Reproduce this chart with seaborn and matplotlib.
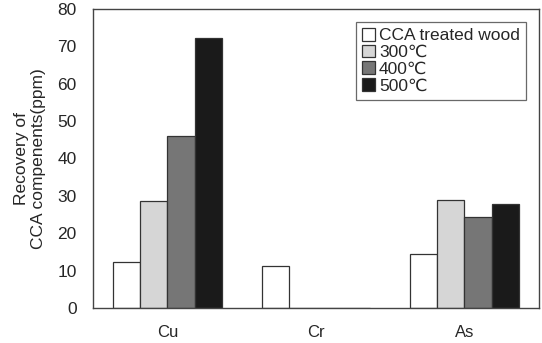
import pandas as pd
import matplotlib
matplotlib.use("Agg")
import matplotlib.pyplot as plt
import seaborn as sns

# data
elements = ["Cu", "Cr", "As"]
series = ["CCA treated wood", "300\u2103", "400\u2103", "500\u2103"]
cca_wood = [12.4, 11.3, 14.4]
t300 = [28.5, 0, 28.9]
t400 = [46.0, 0, 24.4]
t500 = [72.2, 0, 27.8]
colors = ["#ffffff", "#d6d6d6", "#767676", "#1a1a1a"]

rows = []
for name, vals in zip(series, [cca_wood, t300, t400, t500]):
    for el, v in zip(elements, vals):
        rows.append({"element": el, "series": name, "value": v})
df = pd.DataFrame(rows)

sns.set_style("white")
plt.rcParams["font.family"] = ["Liberation Sans", "DejaVu Sans"]

fig = plt.figure(figsize=(5.42, 3.43), dpi=100)
ax = fig.add_axes([0.172, 0.102, 0.822, 0.872])

sns.barplot(data=df, x="element", y="value", hue="series", hue_order=series,
            order=elements, palette=colors, width=0.73, edgecolor="#333333",
            linewidth=0.9, saturation=1, ax=ax)

ax.set_ylim(0, 80)
ax.set_yticks(range(0, 81, 10))
ax.set_xlabel("")
ax.set_ylabel("Recovery of\nCCA compenents(ppm)", fontsize=12.5, labelpad=8)
ax.tick_params(axis="y", labelsize=12.5, length=0, pad=12)
ax.tick_params(axis="x", labelsize=12, length=0, pad=12)
for sp in ax.spines.values():
    sp.set_color("#444444")
    sp.set_linewidth(1.0)

leg = ax.legend(loc="upper right", bbox_to_anchor=(0.971, 0.957), fontsize=12.5,
                frameon=True, fancybox=False, edgecolor="#444444",
                handlelength=0.75, handleheight=0.75, handletextpad=0.2,
                labelspacing=0.08, borderpad=0.35, borderaxespad=0)
leg.get_frame().set_linewidth(0.9)

fig.savefig("out.png", dpi=100)
